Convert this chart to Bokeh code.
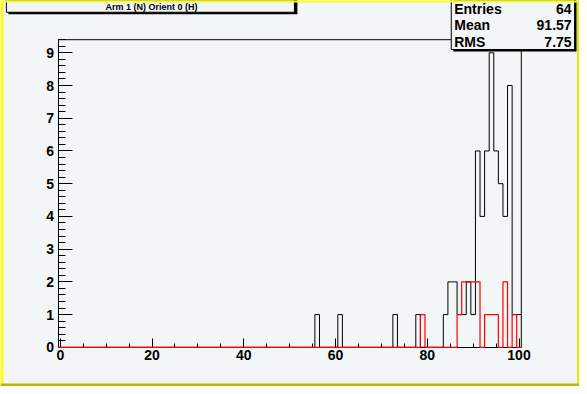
from bokeh.plotting import figure
from bokeh.models import Range1d, SingleIntervalTicker, LinearAxis
from bokeh.core.properties import value
from bokeh.embed import file_html
from bokeh.resources import INLINE

# ---- data ----
bin_centers = list(range(0, 101))
black_bins = [56, 61, 73, 78, 84, 85, 86, 87, 88, 89, 90, 91, 92, 93, 94, 95, 96, 97, 98, 99, 100]
black_counts = [1, 1, 1, 1, 1, 2, 2, 1, 1, 2, 1, 6, 4, 6, 9, 6, 5, 4, 8, 1, 1]
red_bins = [79, 87, 88, 89, 90, 91, 93, 94, 95, 97, 99]
red_counts = [1, 1, 2, 2, 2, 2, 1, 1, 1, 2, 1]
x_lo, x_hi = -0.5, 100.5      # histogram axis range
y_lo, y_hi = 0.0, 9.4         # vertical axis range
title_text = "Arm 1 (N) Orient 0 (H)"
stats_names = ["Entries", "Mean", "RMS"]
stats_values = ["64", "91.57", "7.75"]

# ---- layout (reference pixel space: 587 x 394, y downwards) ----
W, H = 579, 386
RW, RH = 587.0, 394.0
FL, FR, FT, FB = 58.3, 528.0, 40.0, 354.0   # ROOT frame edges in reference pixels
BG = "#f2f6f7"
FONT = "Liberation Sans"

kx = (FR - FL) / (x_hi - x_lo)
ky = (FB - FT) / (y_hi - y_lo)
hx = Range1d(x_lo - FL / kx, x_hi + (RW - FR) / kx)
hy = Range1d(y_lo - (RH - FB) / ky, y_hi + FT / ky)


def full_counts(bins, counts):
    d = dict(zip(bins, counts))
    return [d.get(c, 0) for c in bin_centers]


def step_xy(counts):
    xs = [c - 0.5 for c in bin_centers] + [bin_centers[-1] + 0.5]
    ys = list(counts) + [counts[-1]]
    return xs, ys


p = figure(width=W, height=H, output_backend="svg", toolbar_location=None,
           x_range=Range1d(0, RW), y_range=Range1d(RH, 0),
           x_axis_location=None, y_axis_location=None,
           min_border_left=0, min_border_right=0, min_border_top=0, min_border_bottom=0,
           background_fill_color=BG, border_fill_color=BG)
p.extra_x_ranges = {"hx": hx}
p.extra_y_ranges = {"hy": hy}
p.grid.visible = False
p.outline_line_color = None

# axes at the ROOT frame edges
yax = LinearAxis(x_range_name="hx", y_range_name="hy", fixed_location=x_lo,
                 bounds=(y_lo, y_hi), ticker=SingleIntervalTicker(interval=1, num_minor_ticks=5))
xax = LinearAxis(x_range_name="hx", y_range_name="hy", fixed_location=y_lo,
                 bounds=(x_lo, x_hi), ticker=SingleIntervalTicker(interval=20, num_minor_ticks=4))
for ax in (xax, yax):
    ax.level = "underlay"
    ax.axis_line_color = "black"
    ax.major_tick_line_color = "black"
    ax.minor_tick_line_color = "black"
    ax.major_tick_out = 0
    ax.minor_tick_out = 0
    ax.major_label_text_font = FONT
    ax.major_label_text_font_style = "bold"
    ax.major_label_text_font_size = "14px"
    ax.major_label_text_color = "black"
xax.major_tick_in = 9
xax.minor_tick_in = 4
xax.major_label_standoff = 3
yax.major_tick_in = 14
yax.minor_tick_in = 7
yax.major_label_standoff = 4
p.add_layout(yax, "left")
p.add_layout(xax, "below")

# frame top / right edges
p.line([x_lo, x_hi, x_hi], [y_hi, y_hi, y_lo], x_range_name="hx", y_range_name="hy",
       line_color="black", line_width=1)

# histograms
bx, by = step_xy(full_counts(black_bins, black_counts))
rx, ry = step_xy(full_counts(red_bins, red_counts))
p.step(bx, by, mode="after", x_range_name="hx", y_range_name="hy",
       line_color="black", line_width=1)
p.step(rx, ry, mode="after", x_range_name="hx", y_range_name="hy",
       line_color="red", line_width=1.2)

# title pave (shadow + box + text)
p.quad(left=[8], right=[301], top=[-6], bottom=[14], fill_color="black", line_color=None)
p.quad(left=[6], right=[298], top=[-6], bottom=[12], fill_color=BG,
       line_color="black", line_width=1)
p.text(x=[153], y=[6.5], text=[title_text], text_align="center", text_baseline="middle",
       text_font=value(FONT), text_font_style="bold", text_font_size=value("9px"),
       text_color="black")

# stats pave
p.quad(left=[459], right=[584], top=[-6], bottom=[52], fill_color="black", line_color=None)
p.quad(left=[457], right=[582], top=[-6], bottom=[50], fill_color=BG,
       line_color="black", line_width=1)
rows_y = [9, 25.5, 42]
p.text(x=[460] * 3, y=rows_y, text=stats_names, text_align="left", text_baseline="middle",
       text_font=value(FONT), text_font_style="bold", text_font_size=value("14px"),
       text_color="black")
p.text(x=[579] * 3, y=rows_y, text=stats_values, text_align="right", text_baseline="middle",
       text_font=value(FONT), text_font_style="bold", text_font_size=value("14px"),
       text_color="black")

# canvas border (light left/top, dark right/bottom)
p.quad(left=[0, 0], right=[3, RW], top=[0, 0], bottom=[RH, 2],
       fill_color="#ffff00", line_color=None)
p.quad(left=[RW - 2.5], right=[RW], top=[0], bottom=[RH], fill_color="#e8e800", line_color=None)
p.quad(left=[0], right=[RW], top=[RH - 3], bottom=[RH], fill_color="#b8b800", line_color=None)

open("out.html", "w").write(file_html(p, INLINE))
